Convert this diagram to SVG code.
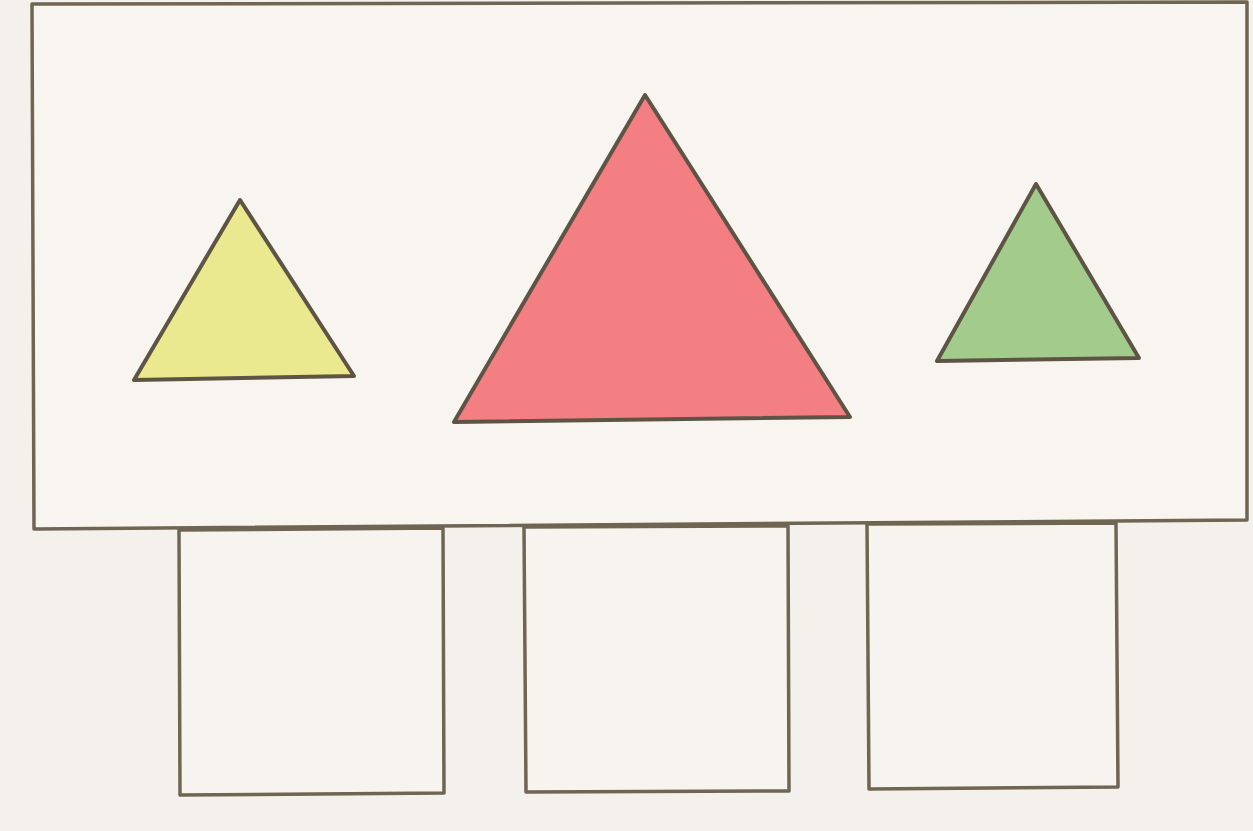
<svg xmlns="http://www.w3.org/2000/svg" width="1253" height="831" viewBox="0 0 1253 831">
<style>
.frame{fill:#f8f5f0;stroke:#6e6552;stroke-width:3.5;stroke-linejoin:round}
.box{fill:#f7f4ef;stroke:#6e6552;stroke-width:3.5;stroke-linejoin:round}
.tri{stroke:#5e5446;stroke-width:4;stroke-linejoin:round}
</style>
<rect x="0" y="0" width="1253" height="831" fill="#f4f0ec"/>
<g id="panel">
<polygon class="frame" points="32,4 1247,2 1247,520 34,529"/>
</g>
<g id="triangle-yellow">
<polygon class="tri" fill="#ebe98f" points="240,200 134,380 354,376"/>
</g>
<g id="triangle-red">
<polygon class="tri" fill="#f47f83" points="645,95 454,422 850,417"/>
</g>
<g id="triangle-green">
<polygon class="tri" fill="#a3cc8c" points="1036,184 937,361 1139,358"/>
</g>
<g id="box-1">
<polygon class="box" points="179,530 443,528 444,793 180,795"/>
</g>
<g id="box-2">
<polygon class="box" points="524,527 788,526 789,791 526,792"/>
</g>
<g id="box-3">
<polygon class="box" points="867,524 1116,523 1118,787 869,789"/>
</g>
<g id="connectors"></g>
</svg>
